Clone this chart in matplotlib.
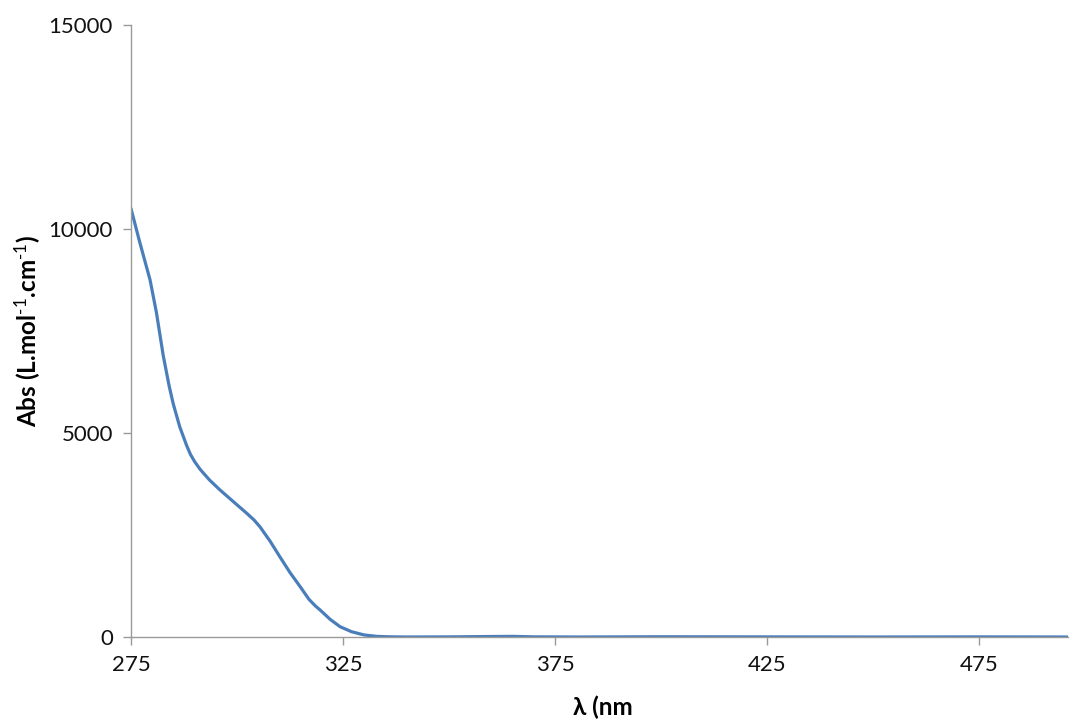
import matplotlib
matplotlib.use("Agg")
import matplotlib.pyplot as plt

wavelength = [275, 277, 279.5, 281, 282.6, 284, 285, 286.5, 288.1, 289, 290, 291.3,
              293.5, 296, 299, 302.3, 304, 305.4, 307.8, 310.1, 312.5, 314.9, 317,
              318.5, 319.6, 322, 324.3, 327, 330, 333, 336, 340, 350, 360, 365, 370,
              380, 400, 425, 450, 475, 496]
absorbance = [10500, 9700, 8750, 7950, 6900, 6150, 5700, 5150, 4700, 4480, 4300, 4110,
              3850, 3603, 3330, 3032, 2870, 2703, 2350, 1968, 1580, 1233, 920,
              760, 662, 430, 253, 130, 50, 15, 5, 0, 3, 12, 15, 4,
              0, 6, 3, 0, 3, 0]
x_ticks = [275, 325, 375, 425, 475]
y_ticks = [0, 5000, 10000, 15000]

plt.rcParams['font.family'] = ['Lato', 'DejaVu Sans']
plt.rcParams['mathtext.fontset'] = 'custom'
plt.rcParams['mathtext.rm'] = 'Lato'
plt.rcParams['mathtext.bf'] = 'Lato:bold'
plt.rcParams['mathtext.default'] = 'bf'

fig = plt.figure(figsize=(10.7, 7.2), dpi=100)
ax = fig.add_axes([131/1070, 1-637/720, (1068-131)/1070, (637-25)/720])
ax.plot(wavelength, absorbance, color='#4A7EBB', lw=2.3, solid_capstyle='round')
ax.set_xlim(275, 496)
ax.set_ylim(0, 15000)
ax.set_xticks(x_ticks)
ax.set_yticks(y_ticks)
for s in ['top', 'right']:
    ax.spines[s].set_visible(False)
for s in ['left', 'bottom']:
    ax.spines[s].set_color('#9a9a9a')
    ax.spines[s].set_linewidth(1.0)
ax.tick_params(axis='both', colors='#9a9a9a', labelcolor='#111111',
               labelsize=16, length=6, width=1.0, direction='out', pad=7)
ax.set_xlabel('λ (nm', fontsize=17.5, fontweight='bold')
ax.xaxis.set_label_coords((603-131)/937, -0.095)
ax.set_ylabel('Abs (L.mol$^{\\text{-1}}$.cm$^{\\text{-1}}$)', fontsize=17.5, fontweight='bold')
ax.yaxis.set_label_coords(-0.093, 0.50)
fig.savefig('out.png', dpi=100)
